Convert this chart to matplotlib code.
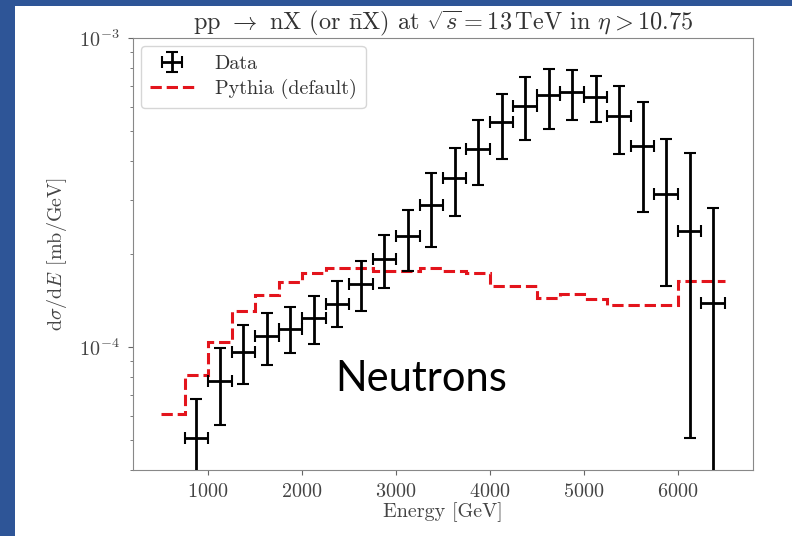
import matplotlib
matplotlib.use("Agg")
import matplotlib.pyplot as plt
from matplotlib.patches import Rectangle

# --- data ---
bin_centers = [875, 1125, 1375, 1625, 1875, 2125, 2375, 2625, 2875, 3125, 3375, 3625,
               3875, 4125, 4375, 4625, 4875, 5125, 5375, 5625, 5875, 6125, 6375]
data_vals = [5.08e-5, 7.79e-5, 9.65e-5, 1.086e-4, 1.14e-4, 1.24e-4, 1.38e-4, 1.60e-4,
             1.93e-4, 2.28e-4, 2.89e-4, 3.53e-4, 4.38e-4, 5.35e-4, 6.03e-4, 6.53e-4,
             6.70e-4, 6.45e-4, 5.60e-4, 4.46e-4, 3.12e-4, 2.37e-4, 1.39e-4]
data_lo = [3.0e-5, 5.58e-5, 7.6e-5, 8.74e-5, 9.53e-5, 1.02e-4, 1.16e-4, 1.31e-4,
           1.55e-4, 1.76e-4, 2.11e-4, 2.66e-4, 3.35e-4, 4.07e-4, 4.66e-4, 5.07e-4,
           5.42e-4, 5.35e-4, 4.22e-4, 2.73e-4, 1.57e-4, 5.08e-5, 1.0e-5]
data_hi = [6.79e-5, 9.95e-5, 1.18e-4, 1.29e-4, 1.35e-4, 1.46e-4, 1.63e-4, 1.90e-4,
           2.31e-4, 2.78e-4, 3.66e-4, 4.41e-4, 5.42e-4, 6.57e-4, 7.50e-4, 7.93e-4,
           7.87e-4, 7.53e-4, 6.98e-4, 6.20e-4, 4.70e-4, 4.25e-4, 2.82e-4]
bin_halfwidth = 125

pythia_edges = [500, 750, 1000, 1250, 1500, 1750, 2000, 2250, 2500, 2750, 3000, 3250, 3500,
                3750, 4000, 4250, 4500, 4750, 5000, 5250, 5500, 5750, 6000, 6250, 6500]
pythia_vals = [6.06e-5, 8.1e-5, 1.04e-4, 1.31e-4, 1.476e-4, 1.62e-4, 1.73e-4, 1.80e-4,
               1.80e-4, 1.76e-4, 1.76e-4, 1.80e-4, 1.76e-4, 1.74e-4, 1.58e-4, 1.58e-4,
               1.44e-4, 1.48e-4, 1.43e-4, 1.37e-4, 1.37e-4, 1.37e-4, 1.63e-4, 1.63e-4]

# --- style ---
plt.rcParams["font.family"] = "serif"
plt.rcParams["font.serif"] = ["cmr10"]
plt.rcParams["mathtext.fontset"] = "cm"
plt.rcParams["axes.formatter.use_mathtext"] = True
plt.rcParams["axes.unicode_minus"] = False

fig = plt.figure(figsize=(7.92, 5.36), dpi=100, facecolor="#2E5597")
fig.patches.append(Rectangle((15 / 792, 0), 1, 1 - 6 / 536, transform=fig.transFigure,
                             facecolor="white", edgecolor="none", zorder=-10))
ax = fig.add_axes([133 / 792, 1 - 470 / 536, 620 / 792, 432 / 536])

yerr = [[v - lo for v, lo in zip(data_vals, data_lo)],
        [hi - v for v, hi in zip(data_vals, data_hi)]]
h_data = ax.errorbar(bin_centers, data_vals, xerr=bin_halfwidth, yerr=yerr, fmt="none",
                     ecolor="black", elinewidth=2, capsize=4.5, capthick=1.5, label="Data",
                     zorder=3)
h_py = ax.stairs(pythia_vals, pythia_edges, baseline=None, color="#e3141c", ls="--",
                 lw=2.2, label="Pythia (default)", zorder=2)

ax.set_yscale("log")
ax.set_ylim(4e-5, 1e-3)
ax.set_xlim(200, 6800)

for s in ax.spines.values():
    s.set_color("#888888")
ax.tick_params(colors="#666666", labelcolor="#444444", labelsize=14.5, pad=6)
ax.tick_params(which="minor", colors="#666666")

ax.set_xlabel("Energy [GeV]", fontsize=14.5, color="#444444", labelpad=1)
ax.set_ylabel(r"d$\sigma$/d$E$ [mb/GeV]", fontsize=14.5, color="#444444", labelpad=7)
ax.set_title(r"pp $\rightarrow$ nX (or $\bar{\rm n}$X) at $\sqrt{s}=13\,\mathrm{TeV}$ in $\eta>10.75$",
             fontsize=17.5, color="#333333", pad=6)

leg = ax.legend([h_data, h_py], ["Data", "Pythia (default)"], loc="upper left",
                fontsize=14.5, frameon=True, edgecolor="#cccccc", handlelength=2.2,
                borderpad=0.45, labelspacing=0.3, borderaxespad=0.4, handletextpad=1.0)
for t in leg.get_texts():
    t.set_color("#333333")

ax.text(0.465, 0.21, "Neutrons", transform=ax.transAxes, fontsize=30,
        family=["Lato", "DejaVu Sans"], ha="center", va="center", color="black")

fig.savefig("out.png", dpi=100, facecolor=fig.get_facecolor())
